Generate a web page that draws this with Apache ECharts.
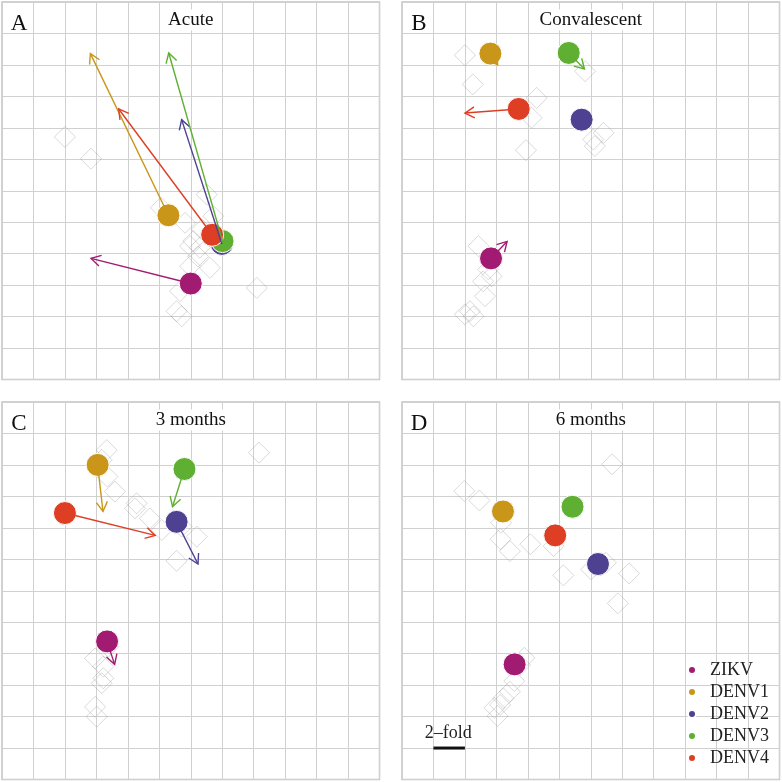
<!DOCTYPE html>
<html>
<head>
<meta charset="utf-8">
<script src="https://cdn.jsdelivr.net/npm/echarts@6/dist/echarts.min.js"></script>
<style>
  html, body { margin: 0; padding: 0; background: #ffffff; }
  #chart { width: 782px; height: 782px; }
</style>
</head>
<body>
<div id="chart"></div>
<script>
// ---------- DATA ----------
const antigens = ['ZIKV', 'DENV1', 'DENV2', 'DENV3', 'DENV4'];
const panelTitles = ['Acute', 'Convalescent', '3 months', '6 months'];
const panelLetters = ['A', 'B', 'C', 'D'];
const scaleLabel = '2\u2013fold';

// antigen map coordinates at each time point: [acute, convalescent, 3 months, 6 months]
const ZIKV  = [[6.00, 3.05], [2.83, 3.85], [3.34, 4.39], [3.58, 3.66]];
const DENV1 = [[5.29, 5.22], [2.81, 10.36], [3.04, 10.00], [3.21, 8.52]];
const DENV2 = [[6.99, 4.31], [5.71, 8.26], [5.55, 8.19], [6.23, 6.85]];
const DENV3 = [[7.01, 4.40], [5.30, 10.38], [5.80, 9.87], [5.42, 8.67]];
const DENV4 = [[6.68, 4.60], [3.71, 8.60], [2.00, 8.47], [4.87, 7.76]];
const antigenPositions = [ZIKV, DENV1, DENV2, DENV3, DENV4];

// sera map coordinates per time point
const seraAcute = [[2.00, 7.71], [2.83, 7.02], [6.51, 5.88], [5.05, 5.46], [6.72, 5.19], [5.82, 4.98],
  [6.35, 4.77], [6.08, 4.40], [6.29, 4.19], [5.98, 4.24], [6.23, 3.91], [6.61, 3.55], [5.98, 3.60],
  [5.66, 2.81], [5.55, 2.17], [5.71, 2.01], [8.10, 2.91]];
const seraConv = [[2.00, 10.31], [2.25, 9.38], [4.28, 8.95], [4.12, 8.32], [5.82, 9.80], [3.94, 7.29],
  [5.71, 8.29], [6.41, 7.84], [6.08, 7.63], [6.13, 7.42], [2.43, 4.24], [2.74, 3.50], [2.58, 3.12],
  [2.64, 2.65], [2.16, 2.17], [2.00, 2.07], [2.27, 2.01], [2.85, 3.28]];
const sera3m = [[3.33, 10.47], [3.17, 10.16], [3.35, 9.63], [3.59, 9.15], [4.28, 8.78], [4.23, 8.62],
  [4.70, 8.30], [5.08, 7.93], [5.71, 8.04], [6.19, 7.72], [5.55, 6.95], [8.17, 10.39], [2.96, 3.85],
  [3.22, 3.59], [3.22, 3.22], [3.17, 3.06], [2.96, 2.31], [3.01, 2.00], [3.38, 4.22]];
const sera6m = [[6.68, 10.02], [1.98, 9.17], [2.46, 8.87], [3.15, 8.16], [3.13, 7.64], [3.43, 7.26],
  [4.08, 7.48], [4.82, 7.42], [5.13, 6.49], [6.01, 6.68], [6.48, 6.89], [7.22, 6.55], [6.86, 5.60],
  [3.89, 3.87], [3.75, 3.64], [3.57, 3.13], [3.43, 2.79], [3.22, 2.58], [3.12, 2.37], [2.94, 2.28],
  [3.04, 2.02]];
const seraByPanel = [seraAcute, seraConv, sera3m, sera6m];

// scale bar: 1 map unit = 2-fold
const scaleBar = [[1, 1, 2, 1]];

// ---------- STYLE ----------
const antigenColors = ['#A21B72', '#C9961A', '#4F4192', '#5EAF32', '#DD3E24'];
const serif = "'Liberation Serif', 'DejaVu Serif', serif";
const gridPos = [[2, 2], [402, 2], [2, 402], [402, 402]];
const gridSize = 377.5;

const chart = echarts.init(document.getElementById('chart'), null, { renderer: 'canvas' });

const grids = [], xAxes = [], yAxes = [], series = [], graphics = [];
const axisBase = {
  type: 'value', min: 0, max: 12, interval: 1,
  axisLine: { show: false }, axisTick: { show: false }, axisLabel: { show: false },
  splitLine: { show: true, lineStyle: { color: '#d0d0d0', width: 1 } }
};

function renderArrow(params, api) {
  const s = api.coord([api.value(0), api.value(1)]);
  const e = api.coord([api.value(2), api.value(3)]);
  const color = antigenColors[api.value(4)];
  const ang = Math.atan2(e[1] - s[1], e[0] - s[0]);
  const L = 11, a = Math.PI / 6;
  const p1 = [e[0] - L * Math.cos(ang - a), e[1] - L * Math.sin(ang - a)];
  const p2 = [e[0] - L * Math.cos(ang + a), e[1] - L * Math.sin(ang + a)];
  return {
    type: 'group',
    children: [
      { type: 'line', shape: { x1: s[0], y1: s[1], x2: e[0], y2: e[1] }, style: { stroke: color, lineWidth: 1.4 } },
      { type: 'polyline', shape: { points: [p1, e, p2] }, style: { stroke: color, lineWidth: 1.4, fill: null } }
    ]
  };
}

function renderScale(params, api) {
  const s = api.coord([api.value(0), api.value(1)]);
  const e = api.coord([api.value(2), api.value(3)]);
  return {
    type: 'group',
    children: [
      { type: 'line', shape: { x1: s[0], y1: s[1], x2: e[0], y2: e[1] }, style: { stroke: '#111', lineWidth: 3 } },
      { type: 'text', x: (s[0] + e[0]) / 2 - 1, y: s[1] - 15,
        style: { text: scaleLabel, fill: '#222', fontFamily: serif, fontSize: 18, align: 'center', verticalAlign: 'middle' } }
    ]
  };
}

for (let p = 0; p < 4; p++) {
  grids.push({
    left: gridPos[p][0], top: gridPos[p][1], width: gridSize, height: gridSize,
    show: true, backgroundColor: '#ffffff', borderColor: '#c2c2c2', borderWidth: 1.5
  });
  xAxes.push(Object.assign({ gridIndex: p }, axisBase));
  yAxes.push(Object.assign({ gridIndex: p }, axisBase));

  // sera (diamonds)
  series.push({
    type: 'scatter', xAxisIndex: p, yAxisIndex: p, silent: true, z: 2,
    symbol: 'diamond', symbolSize: 21,
    itemStyle: { color: 'rgba(0,0,0,0)', borderColor: 'rgba(150,150,150,0.45)', borderWidth: 1 },
    data: seraByPanel[p]
  });

  // antigens (circles)
  for (let k = 0; k < antigens.length; k++) {
    series.push({
      type: 'scatter', name: antigens[k], xAxisIndex: p, yAxisIndex: p, silent: true, z: 3,
      symbol: 'circle', symbolSize: 23,
      itemStyle: { color: antigenColors[k], borderColor: '#ffffff', borderWidth: 1, opacity: 1 },
      data: [antigenPositions[k][p]]
    });
  }

  // arrows to the next time point
  if (p < 3) {
    const arrows = antigenPositions.map((pos, k) => [pos[p][0], pos[p][1], pos[p + 1][0], pos[p + 1][1], k]);
    series.push({
      type: 'custom', xAxisIndex: p, yAxisIndex: p, silent: true, z: 4,
      renderItem: renderArrow, data: arrows, encode: { x: [0, 2], y: [1, 3] }
    });
  }

  // titles and letters
  graphics.push({
    type: 'text', z: 100, x: gridPos[p][0] + gridSize / 2, y: gridPos[p][1] + 18,
    style: { text: panelTitles[p], fill: '#111', fontFamily: serif, fontSize: 19, align: 'center', verticalAlign: 'middle',
      backgroundColor: '#ffffff', padding: [1, 2] }
  });
  graphics.push({
    type: 'text', z: 100, x: gridPos[p][0] + 17, y: gridPos[p][1] + 22,
    style: { text: panelLetters[p], fill: '#111', fontFamily: serif, fontSize: 23, align: 'center', verticalAlign: 'middle' }
  });
}

series.push({
  type: 'custom', xAxisIndex: 3, yAxisIndex: 3, silent: true, z: 5,
  renderItem: renderScale, data: scaleBar, encode: { x: [0, 2], y: [1, 3] }
});

chart.setOption({
  animation: false,
  backgroundColor: '#ffffff',
  grid: grids,
  xAxis: xAxes,
  yAxis: yAxes,
  legend: {
    data: antigens, orient: 'vertical', left: 687, top: 661, padding: 0, z: 100,
    icon: 'circle', itemWidth: 26, itemHeight: 8, itemGap: 4, selectedMode: false,
    textStyle: { fontFamily: serif, fontSize: 18, lineHeight: 18, color: '#222' }
  },
  graphic: graphics,
  series: series
});
</script>
</body>
</html>
